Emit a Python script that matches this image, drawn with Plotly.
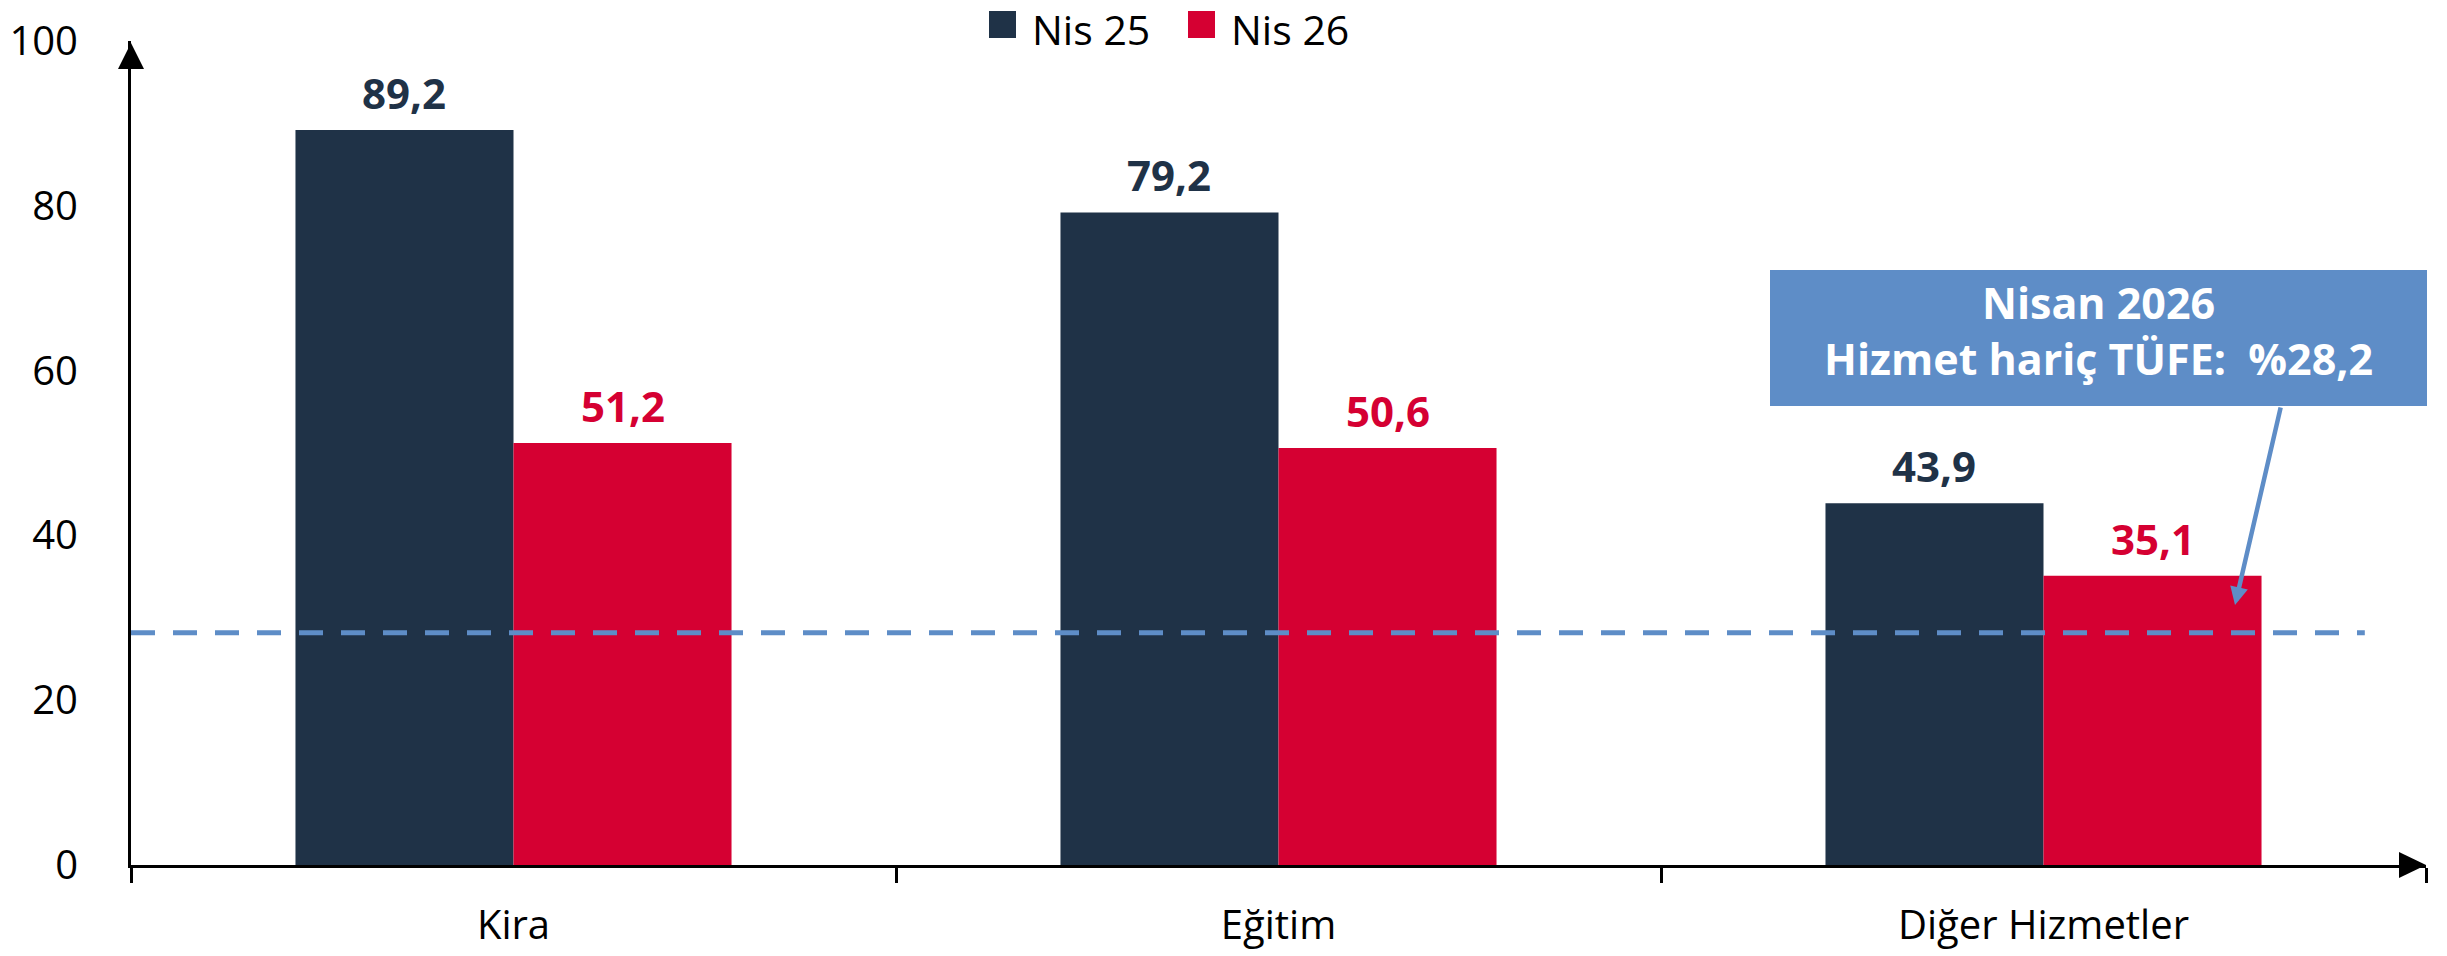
import plotly.graph_objects as go

# Hizmet kalemleri: yıllık enflasyon (%)
categories = ["Kira", "Eğitim", "Diğer Hizmetler"]
series_names = ["Nis 25", "Nis 26"]
nis25 = [89.2, 79.2, 43.9]
nis26 = [51.2, 50.6, 35.1]
hizmet_haric_tufe = 28.2
y_ticks = [0, 20, 40, 60, 80, 100]

NAVY = "#1F3247"
RED = "#D50032"
BLUE = "#5E8DC7"
FONT = "Open Sans"

W, H = 2447, 956
M_L, M_R, M_T, M_B = 131, 21, 41, 91
PW = W - M_L - M_R
PH = H - M_T - M_B


def px_x(px):
    return (px - M_L) / PW


def px_y(py):
    return (H - M_B - py) / PH


def fmt(v):
    return f"{v:.1f}".replace(".", ",")


fig = go.Figure()
for name, vals, col in [(series_names[0], nis25, NAVY), (series_names[1], nis26, RED)]:
    fig.add_trace(go.Bar(
        x=categories, y=vals, name=name,
        marker=dict(color=col, line=dict(width=0)),
        showlegend=False,
    ))

# bar width in pixels (bargap 0.43, two bars per group)
cat_w = PW / len(categories)
bar_w = cat_w * (1 - 0.43) / 2

annotations = []
for vals, col, sh in [(nis25, NAVY, -bar_w / 2), (nis26, RED, bar_w / 2)]:
    for c, v in zip(categories, vals):
        annotations.append(dict(
            x=c, y=v, xref="x", yref="y", text=f"<b>{fmt(v)}</b>",
            showarrow=False, xshift=sh, yanchor="bottom", yshift=7,
            font=dict(family=FONT, size=42, color=col),
        ))

# callout text (box drawn as a shape below)
annotations.append(dict(
    xref="paper", yref="paper", x=px_x(2098.5), y=px_y(330),
    xanchor="center", yanchor="middle",
    text=f"<b>Nisan 2026</b><br><b>Hizmet hariç TÜFE:\u00a0\u00a0%{fmt(hizmet_haric_tufe)}</b>",
    showarrow=False, align="center",
    font=dict(family=FONT, size=43, color="white"),
))
# callout arrow
annotations.append(dict(
    xref="paper", yref="paper", x=px_x(2235), y=px_y(605),
    axref="pixel", ayref="pixel", ax=46, ay=-199, text="",
    showarrow=True, arrowhead=2, arrowsize=0.8, arrowwidth=4.5,
    arrowcolor=BLUE, standoff=0,
))

# legend
for tx, name in [(1030, series_names[0]), (1229, series_names[1])]:
    annotations.append(dict(
        xref="paper", yref="paper", x=px_x(tx), y=px_y(29),
        xanchor="left", yanchor="middle", text=name, showarrow=False,
        font=dict(family=FONT, size=41, color="black"),
    ))

shapes = []
for sx, col in [(989, NAVY), (1188, RED)]:
    shapes.append(dict(
        type="rect", xref="paper", yref="paper",
        x0=px_x(sx), x1=px_x(sx + 27), y0=px_y(38), y1=px_y(11),
        fillcolor=col, line=dict(width=0),
    ))

# callout box
shapes.append(dict(
    type="rect", xref="paper", yref="paper",
    x0=px_x(1770), x1=px_x(2427), y0=px_y(406), y1=px_y(270),
    fillcolor=BLUE, line=dict(width=0), layer="above",
))

# reference line: services-excluded CPI
shapes.append(dict(
    type="line", xref="x", yref="y", x0=-0.5, x1=2.42,
    y0=hizmet_haric_tufe, y1=hizmet_haric_tufe,
    line=dict(color=BLUE, width=5, dash="24px,18px"), layer="above",
))

# axis arrowheads
shapes.append(dict(
    type="path", xref="paper", yref="paper", xsizemode="pixel", ysizemode="pixel",
    xanchor=0, yanchor=1, path="M -13,-28 L 13,-28 L 0,-2 Z",
    fillcolor="black", line=dict(width=0),
))
shapes.append(dict(
    type="path", xref="paper", yref="paper", xsizemode="pixel", ysizemode="pixel",
    xanchor=1, yanchor=0, path="M 0,0 L -27,13 L -27,-13 Z",
    fillcolor="black", line=dict(width=0),
))

fig.update_layout(
    width=W, height=H,
    margin=dict(l=M_L, r=M_R, t=M_T, b=M_B, autoexpand=False),
    paper_bgcolor="white", plot_bgcolor="white",
    barmode="group", bargap=0.43, bargroupgap=0,
    font=dict(family=FONT, color="black"),
    annotations=annotations, shapes=shapes,
    showlegend=False,
)
fig.update_xaxes(
    type="category", range=[-0.5, 2.5], automargin=False,
    showline=True, linecolor="black", linewidth=3,
    ticks="outside", tickson="boundaries", ticklen=15, tickwidth=3, tickcolor="black",
    tickfont=dict(family=FONT, size=40, color="black"),
    ticklabelstandoff=23, showgrid=False, zeroline=False,
)
fig.update_yaxes(
    range=[0, 100], tickvals=y_ticks, automargin=False,
    showline=True, linecolor="black", linewidth=3,
    ticks="", tickfont=dict(family=FONT, size=40, color="black"),
    ticklabelstandoff=42, showgrid=False, zeroline=False,
)

fig.write_html("out.html")
